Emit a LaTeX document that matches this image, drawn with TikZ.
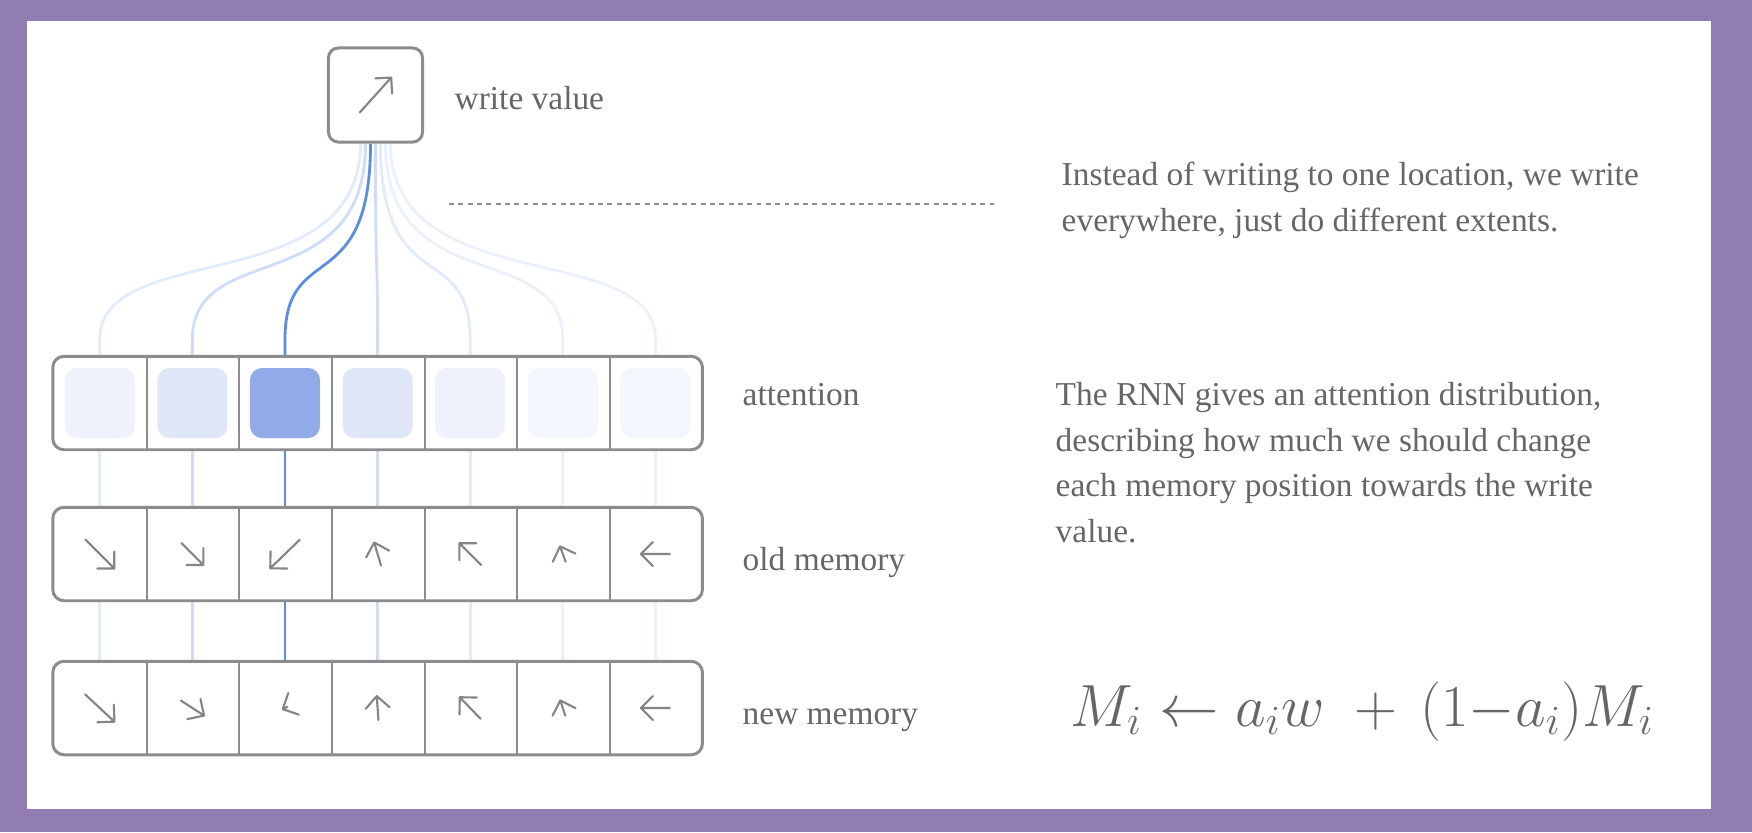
\documentclass[tikz,border=0pt]{standalone}
\usepackage{graphicx}
\usepackage{fontspec}
\setmainfont{Liberation Serif}
\usetikzlibrary{calc,backgrounds}

\definecolor{framepurple}{HTML}{927DB2}
\definecolor{boxgray}{HTML}{8C8C8C}
\definecolor{textgray}{HTML}{666666}
\definecolor{glyphgray}{HTML}{858585}
\definecolor{wireblue}{HTML}{5B8EDE}
\definecolor{cellblue}{HTML}{93AAE8}

\tikzset{
	membox/.style={draw=boxgray,line width=0.85pt,rounded corners=3.2pt,fill=white},
	memcell/.style={minimum width=0.926cm,minimum height=0.92cm,inner sep=0pt},
	divider/.style={draw=boxgray,line width=0.6pt},
	wire/.style={line width=0.8pt},
	glyph/.style={draw=glyphgray,line width=0.6pt,line cap=round,line join=round},
	notetext/.style={text=textgray,font=\fontsize{9.5}{12.9}\selectfont,anchor=base west,inner sep=0pt},
	guide/.style={draw=boxgray,line width=0.3pt,dash pattern=on 1.4pt off 1.25pt},
}

% vector glyph: node, angle (screen), length
\newcommand{\cellarrow}[4][17]{%
	\draw[glyph] (#2) ++({#3+180}:{#4/2}) -- ++(#3:#4) coordinate (tip)
		-- ++({#3+135}:#1) (tip) -- ++({#3-135}:#1);
}

\begin{document}
\begin{tikzpicture}[x=0.01cm,y=-0.01cm]
	% cells
	\begin{scope}[every node/.style={memcell}]
		\foreach \i in {1,...,7} {
			\node (att\i) at ({53.5+92.6*(\i-0.5)},403) {};
			\node (old\i) at ({53.5+92.6*(\i-0.5)},554) {};
			\node (new\i) at ({53.5+92.6*(\i-0.5)},708) {};
		}
	\end{scope}
	\node[membox,rounded corners=2.8pt,minimum size=0.94cm] (wv) at (375.5,95) {};
	
	\begin{scope}[on background layer]
		\fill[framepurple] (0,0) rectangle (1752,832);
		\fill[white] (27,21) rectangle (1711,809);
		\foreach \i/\s in {1/18,2/30,4/30,5/18,6/12,7/12,3/100} {
			\coordinate (bend\i) at ($(att\i.north)+(0,-17)$);
			\draw[wire,draw=wireblue!\s] ($(wv.south)+({5*(\i-4)},0)$)
				.. controls +(0,157) and +(0,-101) .. (bend\i) -- (att\i.north);
			\path (att\i.south) edge[wire,draw=wireblue!\s] (old\i.north);
			\path (old\i.south) edge[wire,draw=wireblue!\s] (new\i.north);
		}
	\end{scope}
	
	% memory rows
	\draw[membox] (att1.north west) rectangle (att7.south east);
	\draw[membox] (old1.north west) rectangle (old7.south east);
	\draw[membox] (new1.north west) rectangle (new7.south east);
	\foreach \i in {1,...,6} {
		\draw[divider] (att\i.north east) -- (att\i.south east);
		\draw[divider] (old\i.north east) -- (old\i.south east);
		\draw[divider] (new\i.north east) -- (new\i.south east);
	}
	
	% attention weights
	\foreach \i/\f in {1/15,2/30,3/100,4/30,5/15,6/10,7/10} {
		\node[fill=cellblue!\f,rounded corners=3.4pt,minimum size=0.7cm,inner sep=0pt] (weight\i) at (att\i) {};
	}
	
	% vectors
	\cellarrow[16]{wv}{-48}{47}
	\foreach \i/\a/\l in {1/45/41,2/45/31,3/136/41,4/253.6/24,5/225/30.6,6/250/16.3,7/180/29} {
		\cellarrow{old\i}{\a}{\l}
	}
	\foreach \i/\a/\l in {1/43/40,2/33/27.7,3/154/5,4/266/24,5/226/30,6/252/16,7/180/29} {
		\cellarrow{new\i}{\a}{\l}
	}
	
	% labels
	\node[notetext] (wvlabel) at (454,109) {write value};
	\node[notetext] (attlabel) at (742,405) {attention};
	\node[notetext] (oldlabel) at (742,570) {old memory};
	\node[notetext] (newlabel) at (742,724) {new memory};
	
	\coordinate (guidestart) at (449,204);
	\coordinate (guideend) at (994,204);
	\draw[guide] (guidestart) -- (guideend);
	
	\node[notetext,align=left] (note) at (1061,231)
		{Instead of writing to one location, we write\\everywhere, just do different extents.};
	\node[notetext,align=left] (rnnnote) at (1055,542)
		{The RNN gives an attention distribution,\\describing how much we should change\\each memory position towards the write\\value.};
	\node[anchor=base west,inner sep=0pt,text=textgray,font=\fontsize{17.28}{20}\selectfont] (update) at (1070,726)
		{\scalebox{0.98}{$M_i \leftarrow a_i w \;+\, (1{-}a_i)M_i$}};
\end{tikzpicture}
\end{document}
